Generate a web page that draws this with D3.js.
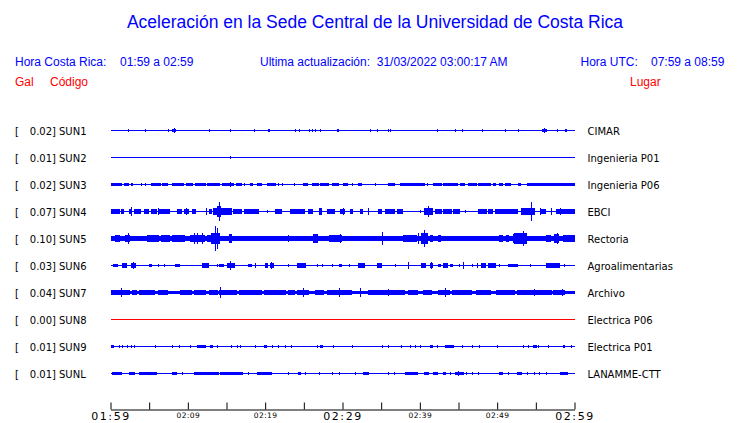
<!DOCTYPE html>
<html>
  <head>
    <meta charset="utf-8">
    <title>Aceleración Sede Central</title>
    <script src="https://d3js.org/d3.v7.min.js"></script>
    <style>
      body { margin: 0; background: #fff; }
      .hdr { font-family: "Liberation Sans", Arial, sans-serif; font-size: 12px; }
      .lbl { font-family: "DejaVu Sans", sans-serif; font-size: 10px; fill: #000; }
    </style>
  </head>
  <body>
    <svg id="svg" width="740" height="423"></svg>
    <script>
      // stations, peak values (Gal) and places
      var codes = ["SUN1", "SUN2", "SUN3", "SUN4", "SUN5", "SUN6", "SUN7", "SUN8", "SUN9", "SUNL"];
      var peaks = [0.02, 0.01, 0.02, 0.07, 0.10, 0.03, 0.04, 0.00, 0.01, 0.01];
      var places = ["CIMAR", "Ingenieria P01", "Ingenieria P06", "EBCI", "Rectoria",
                    "Agroalimentarias", "Archivo", "Electrica P06", "Electrica P01", "LANAMME-CTT"];
      // background noise level of each trace (Gal)
      var noise = [0, 0, 0, 0, 0.014, 0, 0.006, 0, 0, 0];
      // bursts: [start minute, end minute, amplitude Gal]
      var sun1 = [[2.24,2.24,.011],[4.47,4.47,.011],[7.4,7.4,.008],[8.0,8.5,.012],[8.26,8.3,.02],[12.7,12.7,.006],
        [15.5,15.5,.011],[18.5,18.5,.006],[20.4,20.6,.011],[23.8,23.8,.008],[24.4,24.4,.011],[25.7,25.7,.011],
        [26.1,26.1,.011],[26.4,26.4,.011],[27.1,27.1,.011],[29.3,29.5,.008],[33.5,33.5,.011],[34.4,34.4,.011],
        [35.9,35.9,.011],[36.1,36.1,.011],[42.2,42.2,.011],[44.6,44.6,.011],[45.5,45.5,.011],[48.0,48.0,.008],
        [51.0,51.0,.011],[52.7,52.7,.006],[55.8,56.5,.012],[56.1,56.2,.02],[57.8,57.8,.011],[58.8,59.1,.008]];
      var sun2 = [[15.5,15.5,.008]];
      var sun3 = [[0,1.4,.012],[1.7,2.3,.011],[2.7,3.0,.011],[3.9,3.9,.01],[4.4,4.4,.01],[5.2,6.5,.012],
        [6.7,7.5,.012],[8.0,9.5,.012],[9.7,10.6,.012],[10.9,12.3,.012],[12.5,14.2,.012],[14.4,15.9,.012],
        [16.2,17.0,.012],[15.5,15.6,.02],[17.2,17.2,.01],[18.1,18.5,.011],[18.9,19.6,.011],[20.2,21.3,.012],
        [21.7,21.7,.01],[22.2,22.2,.01],[23.7,23.7,.01],[24.9,25.6,.011],[26.0,26.9,.012],[27.1,28.2,.012],
        [28.6,29.5,.012],[30.1,30.8,.011],[31.2,31.2,.01],[32.0,32.5,.011],[34.2,34.2,.01],[35.9,36.8,.011],
        [37.4,40.6,.012],[40.9,40.9,.01],[41.7,42.8,.012],[43.0,44.9,.012],[45.2,45.8,.011],[46.2,47.3,.012],
        [47.5,49.2,.012],[49.5,49.9,.011],[50.3,50.8,.011],[51.0,51.8,.011],[52.7,53.1,.011],[53.8,60,.012]];
      var sun4 = [[0,1.1,.017],[1.3,1.7,.014],[2.4,2.8,.017],[2.6,2.7,.033],[3.0,3.9,.017],[4.3,4.9,.014],
        [5.2,6.0,.017],[6.1,6.1,.022],[6.2,7.7,.017],[8.6,9.2,.017],[9.5,10.1,.017],[9.8,9.8,.022],
        [10.5,11.0,.014],[12.3,12.3,.028],[12.7,13.1,.014],[13.3,15.7,.025],[13.8,14.3,.045],[14.0,14.1,.075],
        [15.9,17.0,.017],[17.2,19.1,.017],[20.2,20.2,.011],[21.3,22.2,.017],[23.2,25.2,.017],[25.6,26.2,.017],
        [26.9,27.3,.022],[28.0,29.0,.017],[29.7,30.3,.017],[30.0,30.0,.022],[31.0,31.4,.014],[32.3,32.7,.014],
        [33.3,33.3,.022],[34.6,35.1,.014],[35.5,36.8,.014],[37.0,37.8,.014],[40.0,40.0,.011],[40.5,41.7,.022],
        [41.0,41.1,.042],[41.9,42.8,.017],[43.0,44.1,.014],[44.3,45.2,.017],[45.8,45.8,.011],[47.5,48.6,.014],
        [48.8,49.5,.017],[49.7,52.7,.017],[53.1,53.5,.028],[53.3,54.8,.022],[54.4,54.5,.075],[55.5,55.5,.028],
        [55.7,56.3,.017],[57.0,57.1,.025],[57.6,60,.017],[58.1,58.2,.025]];
      var sun5 = [[0.6,1.3,.022],[1.9,2.6,.028],[2.2,2.3,.042],[2.8,3.2,.017],[4.7,6.2,.022],[5.8,5.8,.028],
        [6.5,7.7,.022],[7.3,7.3,.028],[8.0,9.7,.022],[8.6,9.5,.028],[10.3,12.3,.028],[10.75,10.75,.042],
        [11.2,11.2,.042],[11.8,11.8,.042],[12.5,13.1,.022],[13.0,14.2,.042],[13.5,13.6,.10],[13.75,13.8,.083],
        [15.3,15.7,.033],[16.3,17.0,.017],[17.6,17.6,.017],[23.0,23.0,.022],[25.0,25.0,.017],[26.2,26.9,.033],
        [28.2,29.9,.028],[29.7,29.7,.033],[35.1,35.1,.047],[37.8,39.6,.022],[39.8,39.8,.042],[40.2,41.1,.042],
        [40.5,40.6,.07],[41.3,41.7,.028],[42.4,42.8,.022],[45.8,45.8,.017],[48.4,48.4,.017],[50.3,50.8,.022],
        [51.2,51.6,.028],[52.0,53.8,.033],[52.2,53.9,.042],[53.3,53.4,.061],[54.4,54.4,.017],[56.3,57.0,.022],
        [57.4,58.1,.033],[57.8,57.8,.042],[58.5,60,.028]];
      var sun6 = [[0.3,0.9,.011],[1.5,2.15,.014],[2.6,3.2,.014],[2.9,2.9,.025],[5.0,5.4,.011],[6.2,6.2,.011],
        [6.9,6.9,.008],[8.4,9.0,.011],[11.8,12.7,.014],[12.2,12.2,.02],[13.8,13.8,.011],[14.0,14.6,.011],
        [15.1,16.1,.017],[15.5,15.6,.033],[17.8,18.3,.011],[18.7,18.7,.017],[20.0,20.4,.017],[20.6,21.1,.014],
        [20.8,20.8,.022],[23.0,23.0,.011],[24.1,25.2,.017],[26.7,26.7,.008],[27.3,27.3,.008],[28.6,28.6,.011],
        [29.5,29.9,.011],[30.8,30.8,.008],[32.0,32.9,.02],[34.4,35.1,.017],[36.8,36.8,.008],[38.5,38.5,.025],
        [40.2,40.9,.014],[41.3,41.7,.014],[41.5,41.5,.022],[42.4,42.8,.011],[43.0,43.7,.014],[43.3,43.3,.02],
        [43.9,44.3,.011],[45.0,45.0,.011],[45.6,45.6,.028],[46.7,46.7,.011],[47.4,47.4,.02],[47.9,48.6,.014],
        [48.8,48.8,.02],[49.0,49.9,.014],[50.3,50.3,.011],[51.4,52.7,.011],[54.2,54.2,.008],[56.3,58.1,.014],
        [58.7,58.7,.011]];
      var sun7 = [[0,2.4,.017],[1.4,1.5,.033],[2.8,3.4,.014],[3.7,5.8,.014],[6.2,7.5,.014],[7.7,8.2,.011],
        [9.0,10.5,.014],[10.75,12.3,.014],[12.7,13.8,.014],[14.0,16.3,.017],[14.2,14.3,.045],[16.6,19.6,.014],
        [19.8,22.6,.014],[23.0,23.9,.014],[24.1,25.6,.017],[24.9,25.0,.033],[26.5,27.7,.014],[28.0,31.2,.014],
        [29.5,29.5,.03],[31.4,32.0,.011],[32.3,32.3,.033],[33.3,38.1,.014],[35.9,35.9,.025],[38.5,39.8,.014],
        [40.4,41.5,.014],[42.4,43.9,.017],[43.2,43.3,.036],[44.1,46.7,.014],[47.3,49.2,.017],[49.9,52.3,.014],
        [52.5,57.0,.014],[54.8,54.8,.022],[57.2,58.7,.014],[58.4,58.4,.022]];
      var sun8 = [];
      var sun9 = [[0,0.4,.008],[1.1,1.1,.008],[1.5,1.5,.008],[2.15,2.15,.008],[2.6,2.6,.008],[3.0,3.0,.008],
        [5.8,5.8,.008],[8.0,8.0,.006],[8.8,8.8,.006],[10.3,10.3,.008],[11.2,12.3,.008],[12.9,13.3,.008],
        [13.8,13.8,.006],[15.6,15.6,.008],[16.3,16.3,.008],[16.8,16.8,.008],[18.7,18.7,.006],[19.8,20.2,.008],
        [20.9,20.9,.008],[21.7,21.7,.008],[22.6,22.6,.006],[23.4,23.4,.006],[26.7,26.7,.008],[27.1,27.5,.008],
        [28.8,28.8,.008],[31.2,31.2,.008],[35.1,35.1,.006],[35.9,35.9,.006],[37.6,37.6,.008],[38.7,38.7,.008],
        [39.4,39.4,.008],[40.0,40.0,.008],[41.3,41.7,.008],[42.2,42.2,.008],[43.2,44.3,.008],[45.4,45.4,.006],
        [46.7,46.7,.008],[47.7,47.7,.008],[50.0,50.0,.006],[53.3,53.3,.008],[54.0,54.0,.008],[54.6,55.1,.008],
        [55.3,55.3,.008],[56.6,56.6,.008],[58.5,58.7,.008],[59.6,59.6,.008]];
      var sunL = [[0.2,1.5,.011],[2.4,3.2,.011],[3.7,6.0,.011],[8.0,8.6,.011],[9.2,9.2,.008],[10.75,14.0,.011],
        [14.2,17.2,.011],[17.8,17.8,.008],[18.9,20.9,.011],[23.0,23.0,.008],[24.3,24.7,.011],[25.2,25.2,.008],
        [26.9,26.9,.008],[28.6,28.6,.006],[29.5,29.5,.008],[31.6,31.6,.008],[32.7,33.5,.011],[35.9,35.9,.008],
        [36.6,36.6,.008],[38.1,39.8,.011],[40.6,41.3,.011],[41.7,42.4,.011],[43.0,43.4,.011],[43.9,43.9,.008],
        [44.5,45.6,.011],[44.9,44.9,.017],[46.0,46.0,.008],[46.7,46.7,.008],[47.5,47.5,.008],[50.3,50.8,.011],
        [51.4,51.4,.008],[52.5,53.1,.011],[53.8,53.8,.008],[54.8,54.8,.008],[55.4,55.4,.008],[56.3,56.3,.008],
        [58.1,59.1,.011]];
      var bursts = [sun1, sun2, sun3, sun4, sun5, sun6, sun7, sun8, sun9, sunL];
      var traceColors = ["blue", "blue", "blue", "blue", "blue", "blue", "blue", "red", "blue", "blue"];
      // time window
      var startTime = new Date(2022, 2, 31, 1, 59);
      var endTime = new Date(2022, 2, 31, 2, 59);
      var bigLabels = ["01:59", "02:29", "02:59"];

      var svg = d3.select("#svg");
      function at(m) { return new Date(startTime.getTime() + m * 60000); }

      // scales
      var x = d3.scaleTime().domain([startTime, endTime]).range([110.5, 574.5]);
      var y = d3.scalePoint().domain(codes).range([130.5, 373.5]);
      var amp = d3.scaleLinear().domain([0, 0.1]).range([0, 12]);

      // header
      svg.append("text").attr("x", 375).attr("y", 28).attr("text-anchor", "middle")
        .style("font-family", "'Liberation Sans', Arial, sans-serif").style("font-size", "17.5px")
        .attr("fill", "#0000ff").text("Aceleración en la Sede Central de la Universidad de Costa Rica");
      var hdr = [
        [15, 66, "#0000ff", "Hora Costa Rica:"], [120, 66, "#0000ff", "01:59 a 02:59"],
        [260, 66, "#0000ff", "Ultima actualización:  31/03/2022 03:00:17 AM"],
        [580.5, 66, "#0000ff", "Hora UTC:"], [651, 66, "#0000ff", "07:59 a 08:59"],
        [15, 86, "#ff0000", "Gal"], [50, 86, "#ff0000", "Código"], [630, 86, "#ff0000", "Lugar"]
      ];
      svg.selectAll(".hdr").data(hdr).enter().append("text")
        .attr("class", "hdr").attr("x", function(d) { return d[0]; }).attr("y", function(d) { return d[1]; })
        .attr("fill", function(d) { return d[2]; }).style("white-space", "pre").text(function(d) { return d[3]; });

      // rows
      var rows = svg.selectAll(".row").data(codes).enter().append("g")
        .attr("class", "row").attr("transform", function(d) { return "translate(0," + y(d) + ")"; });
      rows.append("text").attr("class", "lbl").attr("x", 15).attr("y", 4).text("[");
      rows.append("text").attr("class", "lbl").attr("x", 56).attr("y", 4).attr("text-anchor", "end")
        .text(function(d, i) { return peaks[i].toFixed(2) + "]"; });
      rows.append("text").attr("class", "lbl").attr("x", 59).attr("y", 4).text(function(d) { return d; });
      rows.append("text").attr("class", "lbl").attr("x", 587.5).attr("y", 4)
        .text(function(d, i) { return places[i]; });

      // traces
      rows.each(function(d, i) {
        var g = d3.select(this).append("g").attr("fill", traceColors[i]).attr("shape-rendering", "crispEdges");
        if (noise[i] > 0) {
          g.append("rect").attr("x", x(startTime)).attr("width", x(endTime) - x(startTime))
            .attr("y", -amp(noise[i]) - 0.5).attr("height", 2 * amp(noise[i]) + 1);
        }
        g.append("line").attr("x1", x(startTime)).attr("x2", x(endTime)).attr("y1", 0).attr("y2", 0)
          .attr("stroke", traceColors[i]).attr("stroke-width", 1);
        g.selectAll("rect.b").data(bursts[i]).enter().append("rect").attr("class", "b")
          .attr("x", function(b) { return Math.round(x(at(b[0]))); })
          .attr("width", function(b) { return Math.max(1, Math.round(x(at(b[1])) - x(at(b[0])))); })
          .attr("y", function(b) { return -amp(b[2]) - 0.5; })
          .attr("height", function(b) { return 2 * amp(b[2]) + 1; });
      });

      // time axis
      var tickTimes = d3.range(0, 61, 5).map(at);
      var fmt = d3.timeFormat("%H:%M");
      var axis = svg.append("g").attr("transform", "translate(0,409.5)")
        .call(d3.axisBottom(x).tickValues(tickTimes).tickSizeInner(-7).tickSizeOuter(0).tickPadding(3)
          .tickFormat(function(d, i) { return i % 2 === 0 ? fmt(d) : ""; }));
      axis.select(".domain").attr("stroke", "#000");
      axis.selectAll(".tick line").attr("stroke", "#000");
      axis.selectAll(".tick text").attr("fill", "#000")
        .style("font-family", "'DejaVu Sans', sans-serif")
        .style("font-size", function(d) { return bigLabels.indexOf(fmt(d)) >= 0 ? "11px" : "7.5px"; })
        .style("letter-spacing", function(d) { return bigLabels.indexOf(fmt(d)) >= 0 ? "1.6px" : "0.4px"; });
    </script>
  </body>
</html>
